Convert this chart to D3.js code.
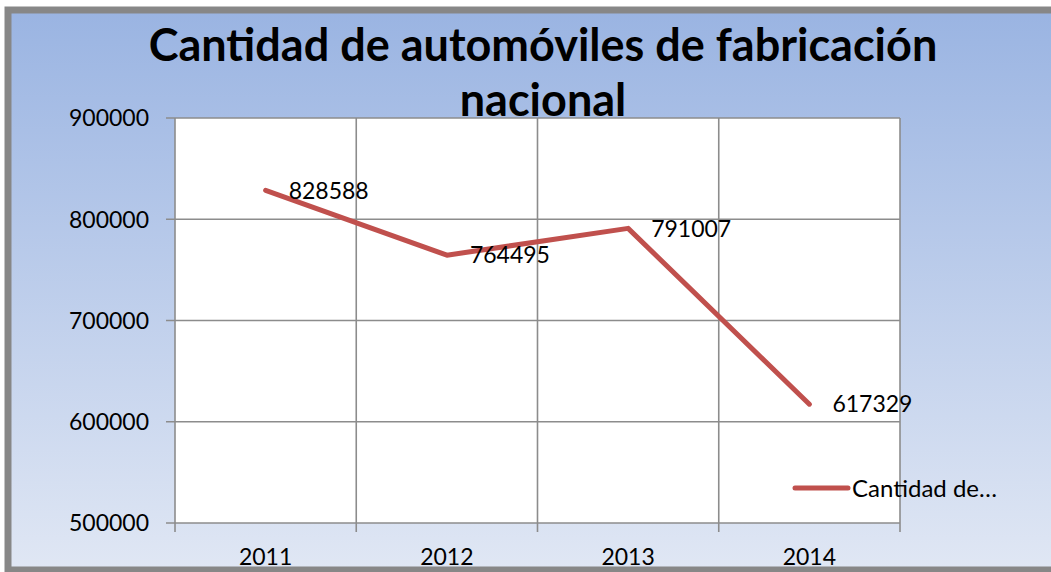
<!DOCTYPE html>
<meta charset="utf-8">
<style>
body { margin: 0; background: #fff; }
text { font-family: Lato, "Open Sans", sans-serif; fill: #000; }
.grid line { stroke: #8c8c8c; stroke-width: 1.6px; }
</style>
<svg width="1051" height="572"></svg>
<script src="https://d3js.org/d3.v7.min.js"></script>
<script>

// chart data
var years = ["2011", "2012", "2013", "2014"];
var values = [828588, 764495, 791007, 617329];
var yTicks = [500000, 600000, 700000, 800000, 900000];
var seriesName = "Cantidad de…";
var titleLines = ["Cantidad de automóviles de fabricación", "nacional"];

var svg = d3.select("svg");

// background gradient
var grad = svg.append("defs").append("linearGradient")
  .attr("id", "bg").attr("x1", 0).attr("y1", 0).attr("x2", 0).attr("y2", 1);
grad.append("stop").attr("offset", "0%").attr("stop-color", "#9ab4e2");
grad.append("stop").attr("offset", "100%").attr("stop-color", "#e0e7f4");

svg.append("rect")
  .attr("x", 8).attr("y", 10).attr("width", 1100).attr("height", 560)
  .attr("fill", "url(#bg)");

var x = d3.scaleBand().domain(years).range([175, 900]).paddingInner(0).paddingOuter(0);
var y = d3.scaleLinear().domain([500000, 900000]).range([523, 118]);

// plot area
svg.append("rect")
  .attr("x", x.range()[0]).attr("y", y(900000))
  .attr("width", x.range()[1] - x.range()[0]).attr("height", y(500000) - y(900000))
  .attr("fill", "#fff");

var grid = svg.append("g").attr("class", "grid");
// horizontal gridlines + y ticks
grid.selectAll(".h").data(yTicks).enter().append("line")
  .attr("x1", 166).attr("x2", 900)
  .attr("y1", function(d) { return y(d); }).attr("y2", function(d) { return y(d); });
// vertical gridlines at band edges + x ticks
var edges = years.map(function(d) { return x(d); }).concat([x.range()[1]]);
grid.selectAll(".v").data(edges).enter().append("line")
  .attr("x1", function(d) { return d; }).attr("x2", function(d) { return d; })
  .attr("y1", y(900000)).attr("y2", 532);

// y labels
svg.append("g").selectAll("text").data(yTicks).enter().append("text")
  .attr("x", 149).attr("y", function(d) { return y(d); })
  .attr("dy", "0.36em").attr("text-anchor", "end")
  .style("font-size", "23px")
  .text(function(d) { return d; });

// x labels
svg.append("g").selectAll("text").data(years).enter().append("text")
  .attr("x", function(d) { return x(d) + x.bandwidth() / 2; }).attr("y", 565)
  .attr("text-anchor", "middle")
  .style("font-size", "23px")
  .text(function(d) { return d; });

// the line
var pts = years.map(function(d, i) { return [x(d) + x.bandwidth() / 2, y(values[i])]; });
svg.append("path")
  .attr("d", d3.line()(pts))
  .attr("fill", "none").attr("stroke", "#c0504d").attr("stroke-width", 5)
  .attr("stroke-linecap", "round").attr("stroke-linejoin", "round");

// data labels
svg.append("g").selectAll("text").data(pts).enter().append("text")
  .attr("x", function(d) { return d[0] + 23; }).attr("y", function(d) { return d[1]; })
  .attr("dy", "0.36em")
  .style("font-size", "23px")
  .text(function(d, i) { return values[i]; });

// legend
svg.append("line")
  .attr("x1", 795).attr("x2", 848).attr("y1", 488).attr("y2", 488)
  .attr("stroke", "#c0504d").attr("stroke-width", 5).attr("stroke-linecap", "round");
svg.append("text")
  .attr("x", 852).attr("y", 488).attr("dy", "0.36em")
  .style("font-size", "24px")
  .text(seriesName);

// title
svg.append("g").selectAll("text").data(titleLines).enter().append("text")
  .attr("x", 543).attr("y", function(d, i) { return 61 + i * 55; })
  .attr("text-anchor", "middle")
  .style("font-size", "45px").style("font-weight", "bold")
  .text(function(d) { return d; });

// outer frame
svg.append("rect")
  .attr("x", 8).attr("y", 10).attr("width", 1100).attr("height", 560)
  .attr("fill", "none").attr("stroke", "#878787").attr("stroke-width", 7);

</script>
